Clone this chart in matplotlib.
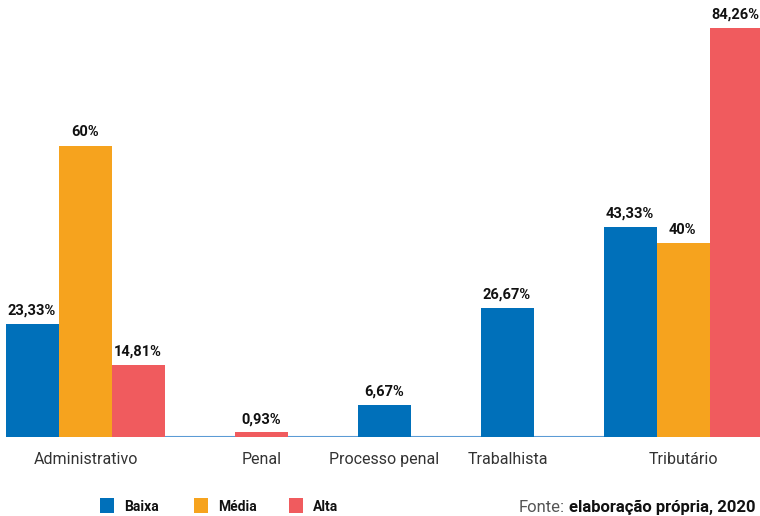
import matplotlib
matplotlib.use("Agg")
import matplotlib.pyplot as plt
from matplotlib.patches import Rectangle
import numpy as np

# data
categorias = ["Administrativo", "Penal", "Processo penal", "Trabalhista", "Tributário"]
series = ["Baixa", "Média", "Alta"]
baixa = [23.33, None, 6.67, 26.67, 43.33]
media = [60.0, None, None, None, 40.0]
alta = [14.81, 0.93, None, None, 84.26]
cores = ["#0070BA", "#F6A31E", "#F05B5E"]

plt.rcParams['font.family'] = ['Roboto', 'DejaVu Sans']

W, H = 760, 516
fig = plt.figure(figsize=(W / 100, H / 100), dpi=100)
# axes from px 6 to 760 horizontally, baseline at px 437
ax = fig.add_axes([6 / W, (H - 437) / H, 754 / W, 437 / H])
ax.set_xlim(0, 754 / 53)
ax.set_ylim(0, 90)
ax.axis('off')

gap = 70 / 53
x = 0.0
centros = []
for i, cat in enumerate(categorias):
    inicio = x
    for vals, cor in zip([baixa, media, alta], cores):
        v = vals[i]
        if v is None:
            continue
        ax.bar(x, v, width=1.0, align='edge', color=cor, linewidth=0)
        txt = ("%.2f" % v).replace(".", ",")
        if txt.endswith(",00"):
            txt = txt[:-3]
        ax.annotate(txt + "%", (x + 0.5, v), xytext=(-0.5, 4.5), textcoords='offset points',
                    ha='center', va='bottom', fontsize=10.5, fontweight='bold', color='#111111')
        x += 1.0
    centros.append((inicio + x) / 2)
    x += gap

ax.axhline(0, color='#5B9BD5', linewidth=1.5, zorder=0)

for c, cat in zip(centros, categorias):
    ax.text(c, -3.0, cat, ha='center', va='top', fontsize=11.5, color='#333333')

# legend
leg_x = [100, 194, 289]
for lx, nome, cor in zip(leg_x, series, cores):
    fig.patches.append(Rectangle((lx / W, (H - 513) / H), 14 / W, 15 / H,
                                 transform=fig.transFigure, color=cor, linewidth=0))
    fig.text((lx + 24) / W, (H - 507) / H, nome, ha='left', va='center',
             fontsize=10, fontweight='bold', color='#111111')

fig.text(519 / W, (H - 507) / H, "Fonte:", ha='left', va='center', fontsize=12,
         color='#555555')
fig.text(569 / W, (H - 507) / H, "elaboração própria, 2020", ha='left', va='center',
         fontsize=12, fontweight='bold', color='#111111')

fig.savefig("out.png", dpi=100)
